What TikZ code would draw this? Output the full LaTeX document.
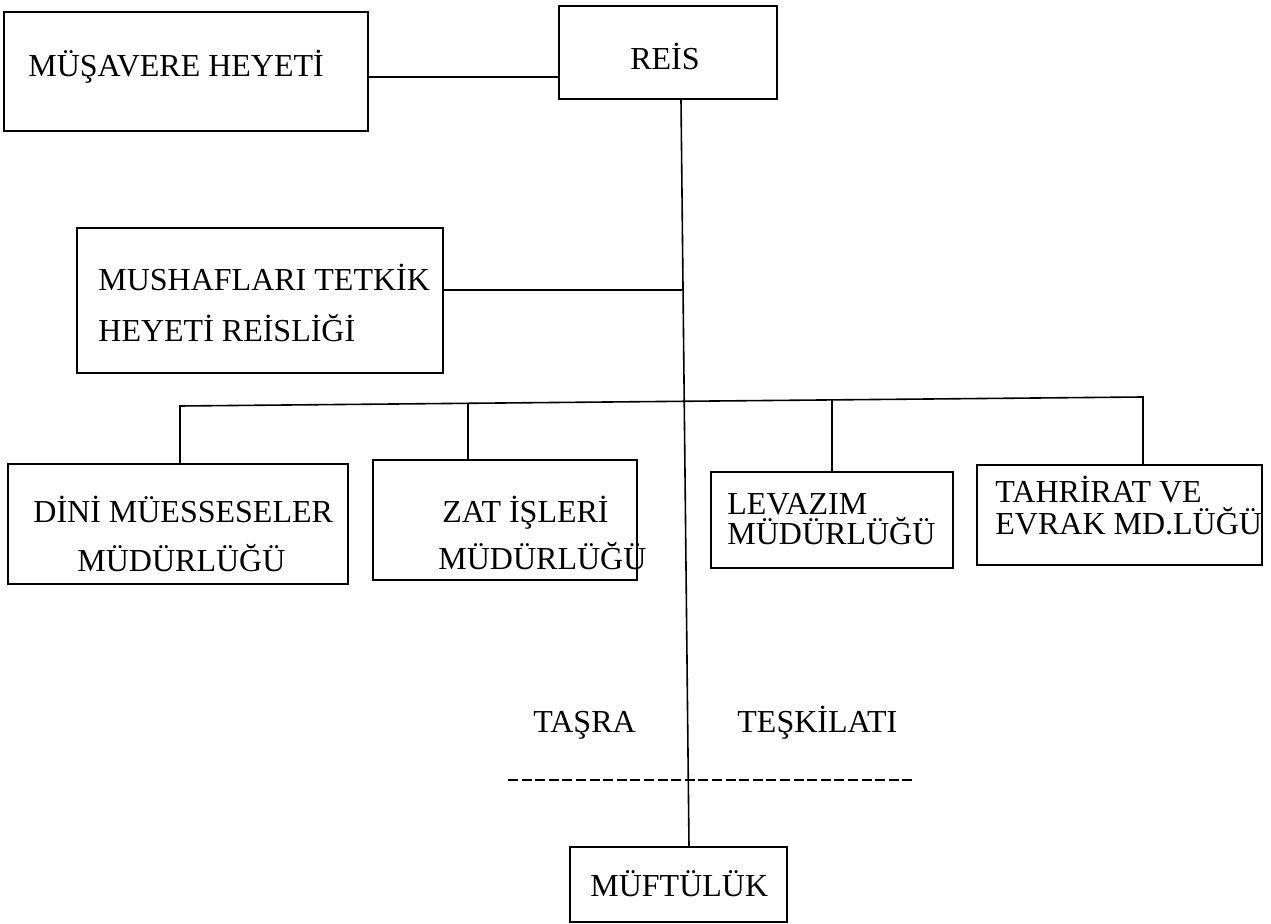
\documentclass[tikz,border=0pt]{standalone}
\usepackage{fontspec}
\setmainfont{Liberation Serif}
\usetikzlibrary{fit}
\begin{document}
\begin{tikzpicture}[x=0.5pt,y=-0.5pt,
  box/.style={draw, line width=0.8pt, inner sep=0pt},
  txt/.style={anchor=base west, inner sep=0pt, font=\fontsize{16}{19}\selectfont},
  link/.style={line width=0.8pt},
  sep/.style={line width=1pt, dash pattern=on 5pt off 1.8pt}]
\useasboundingbox (0,0) rectangle (1271,924);
% boxes
\node[box, fit={(4,12) (368,131)}] (mus) {};
\node[box, fit={(559,6) (777,99)}] (reis) {};
\node[box, fit={(77,228) (443,373)}] (mush) {};
\node[box, fit={(8,464) (348,584)}] (dini) {};
\node[box, fit={(373,460) (637,580)}] (zat) {};
\node[box, fit={(711,472) (953,568)}] (lev) {};
\node[box, fit={(977,465) (1262,565)}] (tahr) {};
\node[box, fit={(570,847) (787,922)}] (muft) {};
% texts
\node[txt] (mustxt) at (28,77) {MÜŞAVERE HEYETİ};
\node[txt, anchor=base] (reistxt) at (665,70) {REİS};
\node[txt] (mush1) at (98,291) {MUSHAFLARI TETKİK};
\node[txt] (mush2) at (98,342) {HEYETİ REİSLİĞİ};
\node[txt] (dini1) at (33,523) {DİNİ MÜESSESELER};
\node[txt] (dini2) at (77,572) {MÜDÜRLÜĞÜ};
\node[txt] (zat1) at (442,523) {ZAT İŞLERİ};
\node[txt] (zat2) at (438,570) {MÜDÜRLÜĞÜ};
\node[txt] (lev1) at (727,515) {LEVAZIM};
\node[txt] (lev2) at (727,545) {MÜDÜRLÜĞÜ};
\node[txt] (tahr1) at (995,503) {TAHRİRAT VE};
\node[txt] (tahr2) at (995,535) {EVRAK MD.LÜĞÜ};
\node[txt] (tasra) at (533,733) {TAŞRA};
\node[txt] (teskilat) at (737,733) {TEŞKİLATI};
\node[txt] (mufttxt) at (590,897) {MÜFTÜLÜK};
% connectors
\draw[link] (mus.east |- 0,77) -- (reis.west |- 0,77);
\draw[link] (reis.south -| 681,0) -- (muft.north -| 689,0);
\coordinate (j1) at (682,290);
\draw[link] (mush.east |- j1) -- (j1);
\coordinate (bl) at (180,406);
\coordinate (br) at (1143,397);
\coordinate (bz) at (468,403.3);
\coordinate (bv) at (832,400);
\draw[link] (dini.north -| bl) -- (bl) -- (br) -- (tahr.north -| br);
\draw[link] (zat.north -| bz) -- (bz);
\draw[link] (lev.north -| bv) -- (bv);
\coordinate (d1) at (508,780);
\coordinate (d2) at (913,780);
\draw[sep] (d1) -- (d2);
\end{tikzpicture}
\end{document}
